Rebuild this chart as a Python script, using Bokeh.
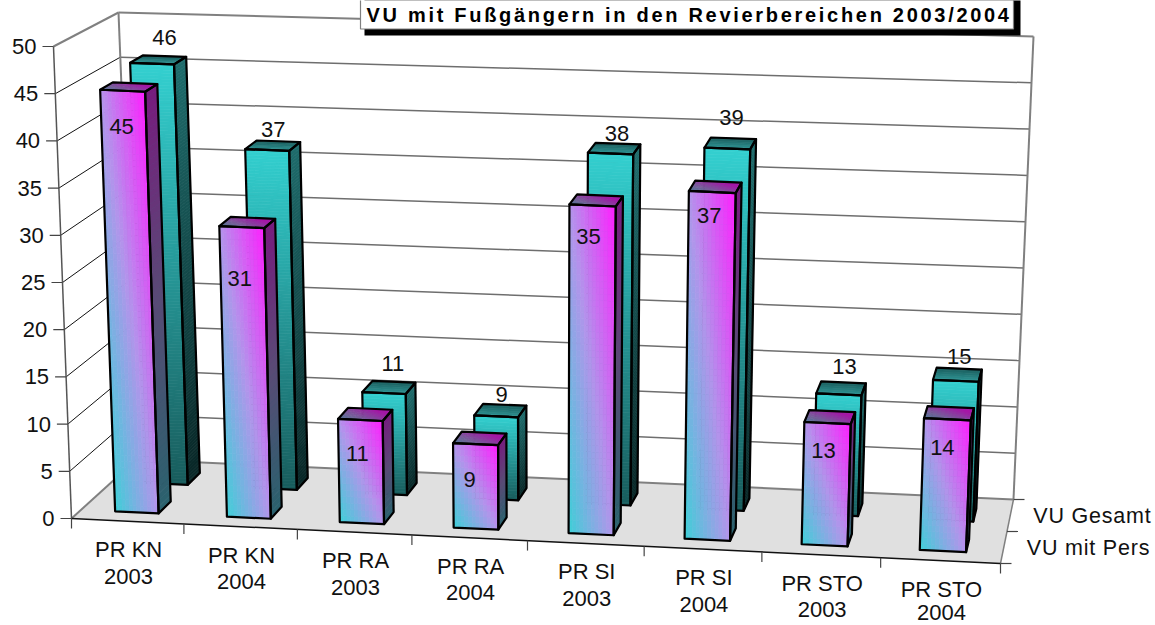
from bokeh.plotting import figure
from bokeh.models import Range1d
from bokeh.layouts import column
from bokeh.core.properties import value
from bokeh.embed import file_html
from bokeh.resources import INLINE

# ---- chart data ----
categories = [["PR KN", "2003"], ["PR KN", "2004"], ["PR RA", "2003"], ["PR RA", "2004"],
              ["PR SI", "2003"], ["PR SI", "2004"], ["PR STO", "2003"], ["PR STO", "2004"]]
series_names = ["VU mit Pers", "VU Gesamt"]
vu_mit_pers = [45, 31, 11, 9, 35, 37, 13, 14]
vu_gesamt = [46, 37, 11, 9, 38, 39, 13, 15]
y_ticks = [0, 5, 10, 15, 20, 25, 30, 35, 40, 45, 50]
title_text = "VU mit Fußgängern in den Revierbereichen 2003/2004"

# ---- label nudges in pixels (style, not data) ----
gesamt_dx = [0, -5, -1, -3, -1, -2, 1, 0]
gesamt_dy = [-19, -12, -18, -10, -10, -21, -16, -12]
pers_dx = [-1, -2, -3, -6, -4, -3, -4, -5]
pers_dy = [36, 51, 34, 35, 31, 23, 27, 28]

# ---- view of the 3D box: screen corners of the chart box ----
FBL, FBR, FTL, FTR = (71, 518), (1000, 563), (53, 46), (1018, 91)
BBL, BBR, BTL, BTR = (136, 459), (1013, 499), (118, 12), (1033, 36)
N = len(categories)
VMAX = 50.0
WARP = 0.0366
FONT = value("Liberation Sans")
FS = "22px"


def proj(x, z, v):
    u = x / N
    u = u + WARP * u * (u - 1)
    t = v / VMAX
    def lerp(a, b, k):
        return a + (b - a) * k
    out = []
    for k in (0, 1):
        fb = lerp(FBL[k], FBR[k], u)
        ft = lerp(FTL[k], FTR[k], u)
        bb = lerp(BBL[k], BBR[k], u)
        bt = lerp(BTL[k], BTR[k], u)
        out.append(lerp(lerp(fb, ft, t), lerp(bb, bt, t), z))
    return out[0], out[1]


def hexc(c):
    return "#%02x%02x%02x" % tuple(int(max(0, min(255, round(a)))) for a in c)


def ramp(stops, s):
    s = max(0.0, min(1.0, s))
    for (a, ca), (b, cb) in zip(stops, stops[1:]):
        if s <= b:
            k = (s - a) / (b - a)
            return tuple(p + (q - p) * k for p, q in zip(ca, cb))
    return stops[-1][1]


PINK = [(0, (60, 208, 215)), (0.5, (178, 148, 235)), (1, (255, 30, 255))]
TEAL = [(0, (24, 92, 92)), (1, (51, 208, 208))]
TEAL_SIDE = [(0, (8, 38, 38)), (1, (30, 108, 108))]
TEAL_TOP = [(0, (46, 150, 150)), (1, (24, 92, 92))]


def scale(c, f):
    return tuple(a * f for a in c)


def layer(fill, spacing):
    f = figure(width=1155, height=625, x_range=Range1d(0, 1155), y_range=Range1d(625, 0),
               toolbar_location=None, output_backend="svg", min_border=0,
               outline_line_color=None, background_fill_color=fill, border_fill_color=fill,
               styles={"position": "absolute", "left": "0px", "top": "0px",
                       "letter-spacing": spacing})
    f.xaxis.visible = False
    f.yaxis.visible = False
    f.grid.visible = False
    return f


p = layer("white", "0px")
p_depth = layer(None, "0.8px")
p_title = layer(None, "2.7px")


def seg(a, b, color, width):
    p.line([a[0], b[0]], [a[1], b[1]], line_color=color, line_width=width)


# floor
fl = [proj(0, 0, 0), proj(N, 0, 0), proj(N, 1, 0), proj(0, 1, 0)]
p.patch([q[0] for q in fl], [q[1] for q in fl], fill_color="#e0e0e0", line_color=None)

# gridlines on the walls
for v in y_ticks[1:]:
    c = "#808080" if v == 50 else "#6e6e6e"
    seg(proj(0, 1, v), proj(N, 1, v), c, 2 if v == 50 else 1.5)
    seg(proj(0, 0, v), proj(0, 1, v), "#808080" if v == 50 else "#111111", 2 if v == 50 else 1)

# box edges
seg(proj(0, 1, 0), proj(N, 1, 0), "#808080", 2)
seg(proj(0, 0, 0), proj(0, 1, 0), "#808080", 2)
seg(proj(N, 0, 0), proj(N, 1, 0), "#808080", 1.5)
seg(proj(0, 1, 0), proj(0, 1, VMAX), "#808080", 2)
seg(proj(N, 1, 0), proj(N, 1, VMAX), "#808080", 2)
seg(proj(0, 0, 0), proj(0, 0, VMAX), "#555555", 1.5)
seg(proj(0, 0, 0), proj(N, 0, 0), "#111111", 1.5)

# ticks + tick labels
for v in y_ticks:
    a = proj(0, 0, v)
    seg((a[0] - 11, a[1]), a, "#444444", 1.2)
p.text([proj(0, 0, v)[0] - 17 for v in y_ticks], [proj(0, 0, v)[1] for v in y_ticks],
       text=[str(v) for v in y_ticks], text_align="right", text_baseline="middle",
       text_font=FONT, text_font_size=FS, text_color="#111111")
for i in range(N + 1):
    a = proj(i, 0, 0)
    seg(a, (a[0], a[1] + 10), "#444444", 1.2)
for z in (0, 0.5, 1):
    a = proj(N, z, 0)
    seg(a, (a[0] + 11, a[1]), "#444444", 1.2)

cx, cy, cc = [], [], []


def cell(pts, color):
    cx.append([q[0] for q in pts])
    cy.append([q[1] for q in pts])
    cc.append(hexc(color))


def flush():
    global cx, cy, cc
    if cx:
        p.patches(cx, cy, fill_color=cc, line_color=cc, line_width=0.7)
    cx, cy, cc = [], [], []


def bar(i, val, z0, z1, front_fn, side_fn, top_fn, nx, ny):
    hw = 0.195
    x0, x1 = i + 0.5 - hw, i + 0.5 + hw
    # side
    for j in range(ny):
        a, b = val * j / ny, val * (j + 1) / ny
        cell([proj(x1, z0, a), proj(x1, z1, a), proj(x1, z1, b), proj(x1, z0, b)],
             side_fn((j + 0.5) / ny))
    # front
    for k in range(nx):
        xa, xb = x0 + (x1 - x0) * k / nx, x0 + (x1 - x0) * (k + 1) / nx
        for j in range(ny):
            a, b = val * j / ny, val * (j + 1) / ny
            cell([proj(xa, z0, a), proj(xb, z0, a), proj(xb, z0, b), proj(xa, z0, b)],
                 front_fn((k + 0.5) / nx, (j + 0.5) / ny))
    # top
    for k in range(nx):
        xa, xb = x0 + (x1 - x0) * k / nx, x0 + (x1 - x0) * (k + 1) / nx
        for j in range(6):
            za, zb = z0 + (z1 - z0) * j / 6, z0 + (z1 - z0) * (j + 1) / 6
            cell([proj(xa, za, val), proj(xb, za, val), proj(xb, zb, val), proj(xa, zb, val)],
                 top_fn((k + 0.5) / nx, (j + 0.5) / 6))
    flush()
    outline = [
        [proj(x0, z0, 0), proj(x1, z0, 0), proj(x1, z0, val), proj(x0, z0, val)],
        [proj(x1, z0, 0), proj(x1, z1, 0), proj(x1, z1, val), proj(x1, z0, val)],
        [proj(x0, z0, val), proj(x1, z0, val), proj(x1, z1, val), proj(x0, z1, val)],
    ]
    p.patches([[q[0] for q in o] for o in outline], [[q[1] for q in o] for o in outline],
              fill_color=None, line_color="#000000", line_width=2.2, line_join="round")


Z_PERS = (0.15, 0.35)
Z_GES = (0.63, 0.83)

for i, val in enumerate(vu_gesamt):
    ny = max(24, int(val * 3))
    bar(i, val, Z_GES[0], Z_GES[1],
        lambda fx, fy: ramp(TEAL, fy),
        lambda fy: ramp(TEAL_SIDE, fy),
        lambda fx, fz: ramp(TEAL_TOP, fz),
        1, ny)

for i, val in enumerate(vu_mit_pers):
    ny = max(14, int(val * 1.5))
    bar(i, val, Z_PERS[0], Z_PERS[1],
        lambda fx, fy: ramp(PINK, (fx + fy) / 2),
        lambda fy: scale(ramp(PINK, 0.1 + 0.8 * fy), 0.5),
        lambda fx, fz: scale(ramp(PINK, (fx + fz) / 2 + 0.2), 0.65),
        12, ny)

# value labels
gx = [proj(i + 0.5, Z_GES[1], v)[0] + d for i, (v, d) in enumerate(zip(vu_gesamt, gesamt_dx))]
gy = [proj(i + 0.5, Z_GES[1], v)[1] + d for i, (v, d) in enumerate(zip(vu_gesamt, gesamt_dy))]
p.text(gx, gy, text=[str(v) for v in vu_gesamt], text_align="center", text_baseline="middle",
       text_font=FONT, text_font_size=FS, text_color="#111111")
mx = [proj(i + 0.5, Z_PERS[0], v)[0] + d for i, (v, d) in enumerate(zip(vu_mit_pers, pers_dx))]
my = [proj(i + 0.5, Z_PERS[0], v)[1] + d for i, (v, d) in enumerate(zip(vu_mit_pers, pers_dy))]
p.text(mx, my, text=[str(v) for v in vu_mit_pers], text_align="center", text_baseline="middle",
       text_font=FONT, text_font_size=FS, text_color="#111111")

# category labels
lx, ly1, ly2 = [], [], []
for i in range(N):
    a = proj(i + 0.5, 0, 0)
    lx.append(a[0] + 1)
    ly1.append(a[1] + 28.5)
    ly2.append(min(a[1] + 55, 612))
p.text(lx, ly1, text=[c[0] for c in categories], text_align="center", text_baseline="middle",
       text_font=FONT, text_font_size=FS, text_color="#111111")
p.text(lx, ly2, text=[c[1] for c in categories], text_align="center", text_baseline="middle",
       text_font=FONT, text_font_size=FS, text_color="#111111")

# depth-axis labels
for name, z in zip(series_names, (0.25, 0.75)):
    a = proj(N, z, 0)
    p_depth.text([a[0] + 23], [a[1]], text=[name], text_align="left", text_baseline="middle",
                 text_font=FONT, text_font_size="21.5px", text_color="#111111")

# title box with shadow
p_title.quad(left=[364], right=[1020], top=[-5], bottom=[35], fill_color="#000000", line_color=None)
p_title.quad(left=[360], right=[1013], top=[-5], bottom=[28.5], fill_color="#ffffff", line_color="#808080", line_width=1.2)
p_title.text([366], [14], text=[title_text], text_align="left", text_baseline="alphabetic",
             text_font=FONT, text_font_size="20px", text_font_style="bold", text_color="#000000")

root = column(p, p_depth, p_title, width=1155, height=625,
              styles={"position": "absolute", "left": "0px", "top": "0px"})
open("out.html", "w").write(file_html(root, INLINE))
